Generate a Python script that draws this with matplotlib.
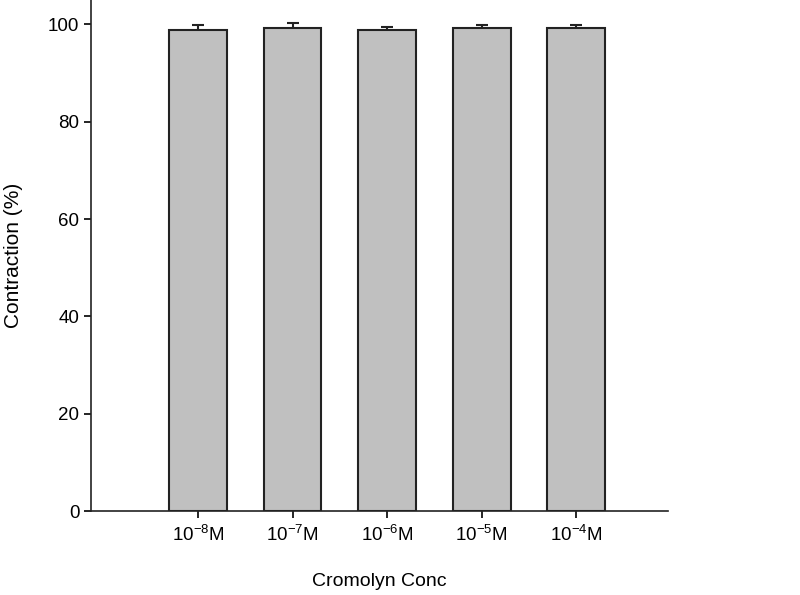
import matplotlib
matplotlib.use("Agg")
import matplotlib.pyplot as plt

categories = [r"10$^{-8}$M", r"10$^{-7}$M", r"10$^{-6}$M", r"10$^{-5}$M", r"10$^{-4}$M"]
values = [98.9, 99.2, 98.9, 99.2, 99.2]
errors = [1.0, 1.0, 0.6, 0.7, 0.7]

plt.rcParams['font.family'] = ['Liberation Sans', 'DejaVu Sans']
plt.rcParams['mathtext.fontset'] = 'custom'
plt.rcParams['mathtext.rm'] = 'Liberation Sans'
plt.rcParams['mathtext.it'] = 'Liberation Sans'

fig = plt.figure(figsize=(8, 5.95), dpi=100)
ax = fig.add_axes([0.114, 0.141, 0.721, 0.859])
pos = list(range(1, len(values) + 1))
ax.errorbar(pos, values, yerr=errors, fmt='none', ecolor='#222222', elinewidth=1.5,
            capsize=4.5, capthick=1.5, zorder=1)
ax.bar(pos, values, width=0.61, color='#c0c0c0', edgecolor='#222222', linewidth=1.5,
       zorder=2)
ax.set_xlim(-0.13, 5.97)
ax.set_ylim(0, 105)
ax.set_yticks([0, 20, 40, 60, 80, 100])
ax.set_xticks(pos)
ax.set_xticklabels(categories, fontsize=13.5)
ax.tick_params(axis='y', labelsize=13.5, length=5, width=1.2, direction='out')
ax.tick_params(axis='x', length=5, width=1.2, direction='out', pad=5)
for s in ['top', 'right']:
    ax.spines[s].set_visible(False)
for s in ['left', 'bottom']:
    ax.spines[s].set_linewidth(1.2)
    ax.spines[s].set_color('#222222')
ax.set_xlabel('Cromolyn Conc', fontsize=14, labelpad=20)
ax.set_ylabel('Contraction (%)', fontsize=15, labelpad=18)
fig.savefig('out.png', dpi=100)
